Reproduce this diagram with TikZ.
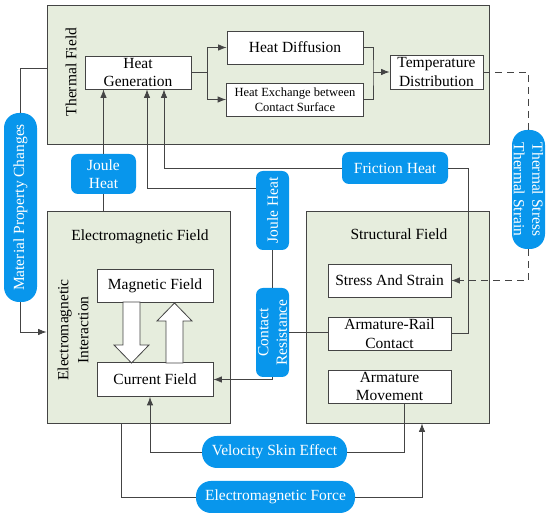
\documentclass[tikz,border=0pt]{standalone}
\usepackage{fontspec}
\setmainfont{Liberation Serif}
\usetikzlibrary{positioning,arrows.meta}
\definecolor{fieldgreen}{RGB}{230,237,221}
\definecolor{tagblue}{RGB}{8,150,236}
\definecolor{linegray}{RGB}{68,68,68}

\begin{document}
\begin{tikzpicture}[x=1pt,y=1pt,>={Latex[length=8.5pt,width=6.5pt]},node distance=53pt and 53pt,on grid,
	every node/.style={font=\fontsize{15.5}{18.5}\selectfont},
	field/.style={draw=linegray, fill=fieldgreen, line width=0.8pt, inner sep=0pt},
	procbox/.style={draw=linegray, fill=white, line width=0.8pt, align=center, inner sep=0pt, minimum height=33pt},
	tag/.style={fill=tagblue, text=white, align=center, inner sep=0pt, rounded corners=7pt},
	pill/.style={tag, rounded corners=15pt},
	link/.style={draw=linegray, line width=0.8pt},
	hollow/.style={draw=linegray, fill=white, line width=0.8pt}]
			\useasboundingbox (0,0) rectangle (550,519);
			% the three fields
			\node [field, minimum width=442pt, minimum height=139pt] (thermal) at (268,444.5) {};
			\node [field, minimum width=183pt, minimum height=212pt] (em) at (138.5,202) {};
			\node [field, minimum width=183pt, minimum height=212pt] (struct) at (397.5,202) {};
			\node [rotate=90] (thermlabel) at (71,447) {Thermal Field};
			\node (emtitle) at (140,282) {Electromagnetic Field};
			\node [rotate=90, align=center, font=\fontsize{15.5}{20}\selectfont] (eminter) at (73,189) {Electromagnetic\\Interaction};
			\node (structtitle) at (399,285) {Structural Field};
			% thermal field
			\node [procbox, minimum width=106pt] (heatgen) at (138,446.5) {Heat\\Generation};
			\node [procbox, minimum width=136pt] (diffusion) at (295,471.5) {Heat Diffusion};
			\node [procbox, minimum width=137pt, font=\fontsize{12.5}{15}\selectfont] (exchange) [below =52pt of diffusion] {Heat Exchange between\\Contact Surface};
			\node [procbox, minimum width=93pt, minimum height=34pt] (tempdist) at (436.5,447) {Temperature\\Distribution};
			\coordinate (merge) at (373,447);
			% electromagnetic field
			\node [procbox, minimum width=116pt] (magfield) at (155,233.5) {Magnetic Field};
			\node [procbox, minimum width=116pt, minimum height=34pt] (curfield) [below =94pt of magfield] {Current Field};
			% structural field
			\node [procbox, minimum width=123pt] (stress) at (389.5,238.5) {Stress And Strain};
			\node [procbox, minimum width=123pt] (armrail) [below =of stress] {Armature-Rail\\Contact};
			\node [procbox, minimum width=123pt] (armmove) [below =of armrail] {Armature\\Movement};
			% coupling labels
			\node [pill, rotate=-90, minimum width=119pt, minimum height=33pt] (thermstress) at (528.5,329.5) {Thermal Stress\\Thermal Strain};
			\node [pill, rotate=90, minimum width=189pt, minimum height=33pt] (matprop) at (20.5,311.5) {Material Property Changes};
			\node [tag, minimum width=65pt, minimum height=40pt] (joule1) at (103.5,345) {Joule\\Heat};
			\node [tag, rotate=90, minimum width=79pt, minimum height=33pt] (jouleV) at (272.5,308.5) {Joule Heat};
			\node [tag, rotate=90, minimum width=89pt, minimum height=33pt] (contact) at (272.5,186.5) {Contact\\Resistance};
			\node [tag, minimum width=106pt, minimum height=32pt] (friction) at (395,351) {Friction Heat};
			\node [pill, minimum width=145pt, minimum height=32pt] (velocity) at (274.5,67) {Velocity Skin Effect};
			\node [pill, minimum width=159pt, minimum height=32pt] (emforce) at (275.5,22) {Electromagnetic Force};
			% hollow arrows between magnetic and current field
			\draw [hollow] (123,217) -- (140,217) -- (140,174) -- (149,174) -- (131.5,156) -- (114,174) -- (123,174) -- cycle;
			\draw [hollow] (166,156) -- (183,156) -- (183,198) -- (192,198) -- (174.5,216) -- (157,198) -- (166,198) -- cycle;
			% connectors
			\draw [link,->] (heatgen.east) -- ++(16,0) |- (diffusion.west);
			\draw [link,->] (heatgen.east) -- ++(16,0) |- (exchange.west);
			\draw [link] (diffusion.east) -| (merge) |- (exchange.east);
			\draw [link,->] (merge) -- (tempdist.west);
			\draw [link,dash pattern=on 7pt off 5pt] (tempdist.east) -| (thermstress.west);
			\draw [link,dash pattern=on 7pt off 5pt,->] (thermstress.east) |- (stress.east);
			\draw [link] (matprop.east) |- ([yshift=6.5pt]thermal.west);
			\draw [link,->] (matprop.west) |- ([yshift=-15pt]em.west);
			\draw [link,->] (joule1.north) -- (joule1.north |- heatgen.south);
			\draw [link] (joule1.south) -- (joule1.south |- em.north);
			\draw [link,->] ([yshift=22.5pt]jouleV.north) -| ([xshift=9pt]heatgen.south);
			\draw [link] (jouleV.west) -- (contact.east);
			\draw [link] (contact.south) -- (contact.south -| armrail.west);
			\draw [link,->] (contact.west) |- (curfield.east);
			\draw [link,->] (friction.west) -| ([xshift=26pt]heatgen.south);
			\draw [link] (friction.east) -| ([xshift=17pt]armrail.east) -- (armrail.east);
			\draw [link] ([xshift=14.5pt]armmove.south) |- (velocity.east);
			\draw [link,->] (velocity.west) -| ([xshift=-5pt]curfield.south);
			\draw [link] ([xshift=-17.5pt]em.south) |- (emforce.west);
			\draw [link,->] (emforce.east) -| ([xshift=24.5pt]struct.south);
		\end{tikzpicture}
\end{document}
